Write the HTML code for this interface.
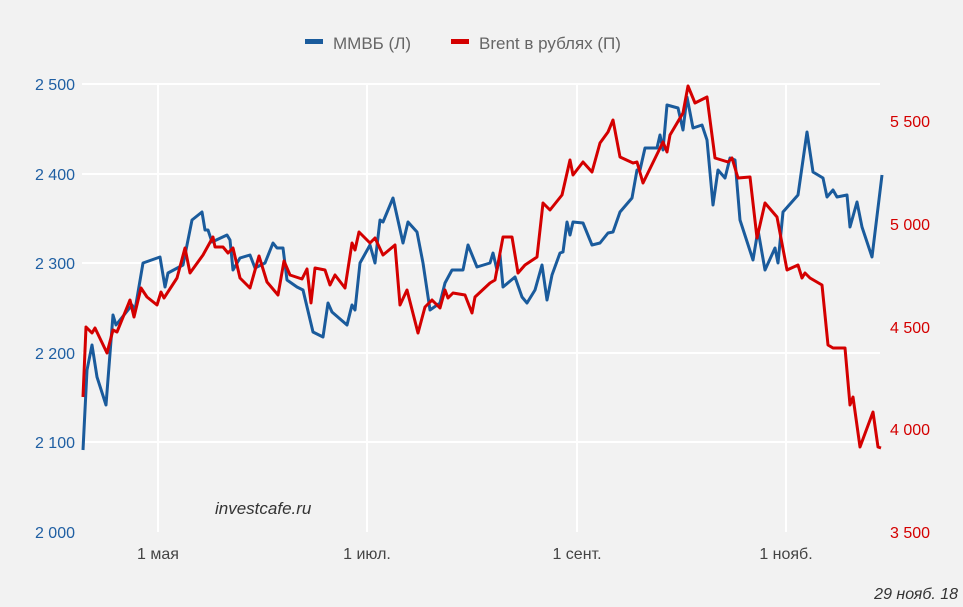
<!DOCTYPE html>
<html><head><meta charset="utf-8"><style>
body{margin:0;background:#f2f2f2;}
svg{display:block;font-family:"Liberation Sans",sans-serif;}
</style></head><body>
<svg width="963" height="607" viewBox="0 0 963 607">
<rect width="963" height="607" fill="#f2f2f2"/>
<g stroke="#ffffff" stroke-width="2">
<line x1="82" y1="84" x2="880" y2="84"/><line x1="82" y1="174" x2="880" y2="174"/>
<line x1="82" y1="263" x2="880" y2="263"/><line x1="82" y1="353" x2="880" y2="353"/>
<line x1="82" y1="442" x2="880" y2="442"/>
<line x1="158" y1="84" x2="158" y2="532"/><line x1="367" y1="84" x2="367" y2="532"/>
<line x1="577" y1="84" x2="577" y2="532"/><line x1="786" y1="84" x2="786" y2="532"/>
</g>
<g font-size="16" fill="#1f5fa3" text-anchor="end">
<text x="75" y="90">2 500</text><text x="75" y="180">2 400</text><text x="75" y="269">2 300</text>
<text x="75" y="359">2 200</text><text x="75" y="448">2 100</text><text x="75" y="538">2 000</text>
</g>
<g font-size="16" fill="#d40000" text-anchor="start">
<text x="890" y="127">5 500</text><text x="890" y="230">5 000</text><text x="890" y="333">4 500</text>
<text x="890" y="435">4 000</text><text x="890" y="538">3 500</text>
</g>
<g font-size="16" fill="#444" text-anchor="middle">
<text x="158" y="559">1 мая</text><text x="367" y="559">1 июл.</text>
<text x="577" y="559">1 сент.</text><text x="786" y="559">1 нояб.</text>
</g>
<rect x="305" y="39" width="18" height="5" fill="#1a5b9c"/>
<text x="333" y="49" font-size="17" fill="#666">ММВБ (Л)</text>
<rect x="451" y="39" width="18" height="5" fill="#d40000"/>
<text x="479" y="49" font-size="17" fill="#666">Brent в рублях (П)</text>
<text x="215" y="514" font-size="17" font-style="italic" fill="#333">investcafe.ru</text>
<text x="958" y="599" font-size="16" font-style="italic" fill="#333" text-anchor="end">29 нояб. 18</text>
<polyline fill="none" stroke="#1a5b9c" stroke-width="3" stroke-linejoin="round" points="83,450 87,370 92,345 97,377 106,405 113,315 116,325 132,305 135,310 143,263 160,257 165,287 168,273 183,265 192,220 202,212 205,230 208,230 212,242 227,235 230,240 233,270 240,258 250,255 255,268 265,263 273,243 277,248 283,248 287,280 297,287 303,290 313,332 323,337 328,303 332,312 347,325 352,305 355,310 360,263 370,245 375,263 380,220 383,222 393,198 403,243 408,222 417,232 423,263 430,310 440,303 445,283 452,270 463,270 468,245 477,267 490,263 493,253 497,270 500,255 503,287 515,277 522,297 527,303 535,290 542,265 547,300 552,275 560,253 563,252 567,222 570,235 573,222 583,223 592,245 600,243 608,233 613,232 620,212 632,198 637,170 640,170 645,148 657,148 660,135 663,150 667,105 678,108 683,130 687,97 693,128 702,125 707,140 713,205 718,170 725,178 730,158 735,160 740,220 753,260 758,230 765,270 775,248 778,263 783,212 798,195 807,132 813,172 823,178 827,197 833,190 837,197 847,195 850,227 857,202 862,227 872,257 882,175"/>
<polyline fill="none" stroke="#d40000" stroke-width="3" stroke-linejoin="round" points="83,397 86,327 92,333 95,328 107,353 113,330 117,332 130,300 134,317 141,288 147,297 157,305 161,292 164,298 177,278 185,248 190,273 203,255 213,237 215,247 223,247 228,253 233,248 240,278 250,288 259,256 267,282 278,295 284,261 290,275 302,279 307,269 311,303 315,268 325,270 330,285 335,275 345,288 352,243 355,250 359,232 370,243 375,238 383,255 395,245 400,305 407,290 418,333 425,307 432,300 440,308 445,290 448,298 453,293 465,295 472,313 475,297 490,283 495,280 503,237 512,237 518,273 525,265 537,257 543,203 550,210 562,195 570,160 573,175 583,162 592,172 600,143 608,132 613,120 620,157 633,163 637,162 643,183 663,142 667,152 670,135 683,113 688,86 695,103 707,97 715,158 728,162 732,158 738,178 750,177 757,238 765,203 777,217 787,270 798,265 802,278 805,273 810,278 822,285 828,345 833,348 845,348 850,405 853,397 860,447 873,412 878,447 881,448"/>
</svg>
</body></html>
